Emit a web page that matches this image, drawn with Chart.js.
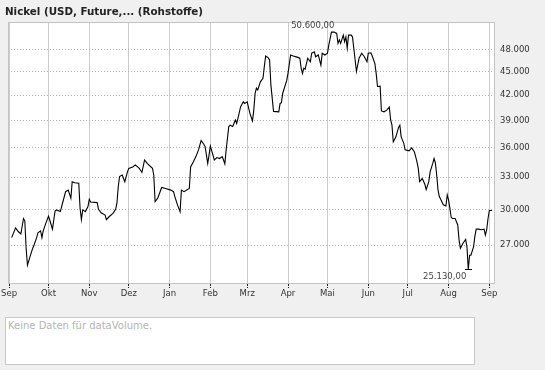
<!DOCTYPE html>
<html>
<head>
<meta charset="utf-8">
<script src="https://cdn.jsdelivr.net/npm/chart.js@4.4.0/dist/chart.umd.min.js"></script>
<style>
  html, body { margin: 0; padding: 0; background: #f0f0f0; }
  #wrap { position: relative; width: 545px; height: 370px; overflow: hidden; }
  #chart { position: absolute; left: 0; top: 0; }
  #title { position: absolute; left: 5px; top: 5px; font: bold 10.3px "DejaVu Sans"; color: #222; white-space: nowrap; }
  #volume { position: absolute; left: 5px; top: 317px; width: 468px; height: 46px; background: #fff; border: 1px solid #c8c8c8; }
  #volume span { position: absolute; left: 2px; top: 2px; font: 10px "DejaVu Sans"; color: #b4b4b4; white-space: nowrap; }
</style>
</head>
<body>
<div id="wrap">
  <canvas id="chart" width="545" height="300"></canvas>
  <div id="title">Nickel (USD, Future,... (Rohstoffe)</div>
  <div id="volume"><span>Keine Daten für dataVolume.</span></div>
</div>
<script>
// days since 1 Sep (Sep .. Sep), price in USD
const days = [2, 5, 7, 9, 11, 12, 13, 14, 16, 18, 19, 21, 22, 24, 25, 26, 28, 30, 31, 33,
  35, 36, 39, 41, 43, 45, 47, 48, 50, 53, 54, 55, 56, 58, 60, 61, 62, 67, 68, 70,
  73, 74, 76, 79, 81, 82, 83, 84, 86, 88, 90, 91, 94, 96, 99, 101, 103, 105, 109, 110,
  111, 113, 116, 119, 123, 125, 126, 128, 130, 131, 133, 137, 138, 140, 142, 144, 145, 146, 148, 149,
  151, 152, 153, 155, 156, 158, 160, 162, 163, 164, 165, 167, 168, 170, 172, 173, 174, 176, 178, 179,
  181, 183, 185, 186, 187, 188, 189, 191, 193, 194, 195, 197, 198, 199, 201, 205, 206, 207, 208, 210,
  211, 212, 214, 216, 219, 221, 222, 223, 224, 225, 227, 229, 230, 232, 233, 235, 237, 238, 240, 242,
  243, 245, 247, 249, 250, 251, 252, 254, 255, 256, 257, 258, 260, 261, 262, 264, 266, 268, 270, 272,
  273, 275, 276, 278, 279, 280, 282, 283, 285, 287, 289, 290, 291, 292, 294, 296, 297, 298, 300, 301,
  304, 306, 308, 309, 310, 311, 312, 314, 316, 317, 319, 320, 322, 323, 324, 325, 326, 327, 328, 330,
  332, 333, 334, 335, 336, 337, 339, 341, 342, 343, 345, 347, 348, 349, 350, 351, 353, 354, 355, 357,
  359, 361, 362, 363, 364, 365, 367];
const prices = [27600, 28400, 28100, 27900, 29200, 29000, 26750, 25450, 26100, 26750, 27000, 27600, 28000, 28150, 27600, 28150, 28800, 29400, 29050, 28300,
  29850, 29950, 29800, 30700, 31600, 31750, 31000, 32550, 32450, 32400, 30100, 29100, 29950, 29800, 30250, 30900, 30650, 30600, 30000, 29700,
  29500, 29100, 29350, 29650, 30000, 30550, 32050, 33050, 33200, 32550, 33500, 33850, 34000, 34200, 33850, 33450, 34700, 34350, 33850, 33200,
  30700, 31000, 32000, 31900, 31750, 31600, 31150, 30400, 29800, 31750, 31600, 31900, 34000, 34500, 35050, 35750, 36250, 36750, 36350, 36100,
  34350, 35200, 36150, 35200, 34700, 34950, 34850, 35050, 34700, 34300, 35750, 38300, 38450, 38300, 39050, 38650, 39250, 40600, 41200, 41000,
  41200, 39850, 38950, 40200, 42250, 42900, 42650, 43700, 44150, 45700, 47150, 46900, 46600, 43300, 40050, 40000, 41000, 41100, 42250, 43300,
  43850, 44800, 47300, 47150, 47000, 46850, 45500, 44800, 45500, 45350, 46850, 46350, 47550, 47750, 47050, 47300, 45900, 47550, 47300, 47550,
  48700, 50600, 50600, 50400, 48950, 49450, 48950, 50150, 49200, 49900, 48250, 50150, 50150, 49900, 48250, 45050, 46850, 47550, 47050, 46350,
  47550, 47600, 47150, 46150, 44800, 43100, 43150, 40100, 40000, 40200, 40550, 39050, 38450, 36600, 37150, 38200, 38450, 37150, 36450, 35750,
  35650, 35950, 35550, 35050, 34500, 33850, 32550, 32850, 32300, 31800, 32550, 33500, 34350, 34850, 34400, 33200, 31750, 31150, 30900, 30400,
  30300, 31300, 30850, 30100, 29300, 29200, 29200, 28650, 27400, 26750, 27150, 27450, 26850, 25130, 26200, 26200, 26850, 27700, 28300, 28300,
  28250, 28300, 27800, 28250, 29200, 29900, 29900];

const monthDays = [0, 30, 61, 91, 122, 153, 181, 212, 242, 273, 303, 334, 365];
const monthLabels = ["Sep", "Okt", "Nov", "Dez", "Jan", "Feb", "Mrz", "Apr", "Mai", "Jun", "Jul", "Aug", "Sep"];
const yTicks = [27000, 30000, 33000, 36000, 39000, 42000, 45000, 48000];

const fmt = (v) => String(Math.round(v)).replace(/\B(?=(\d{3})+(?!\d))/g, ".");
const FONT = "DejaVu Sans";

const framePlugin = {
  id: "frame",
  beforeDraw(chart) {
    const a = chart.chartArea;
    const ctx = chart.ctx;
    ctx.save();
    ctx.fillStyle = "#ffffff";
    ctx.fillRect(a.left, a.top, a.right - a.left, a.bottom - a.top);
    ctx.restore();
  },
  afterDraw(chart) {
    const a = chart.chartArea;
    const ctx = chart.ctx;
    const xs = chart.scales.x;
    const ys = chart.scales.y;
    ctx.save();
    ctx.strokeStyle = "#c4c4c4";
    ctx.lineWidth = 1;
    ctx.strokeRect(a.left + 0.5, a.top + 0.5, a.right - a.left - 1, a.bottom - a.top - 1);

    // high / low labels
    const hi = Math.max(...prices);
    const lo = Math.min(...prices);
    const hx = xs.getPixelForValue(days[prices.indexOf(hi)]);
    const hy = ys.getPixelForValue(hi);
    const lx = xs.getPixelForValue(days[prices.indexOf(lo)]);
    const ly = ys.getPixelForValue(lo);
    ctx.font = "8.5px '" + FONT + "'";
    ctx.fillStyle = "#444";
    ctx.textAlign = "right";
    ctx.textBaseline = "middle";
    ctx.fillText(fmt(hi) + ",00", hx + 3, hy - 6);
    ctx.fillText(fmt(lo) + ",00", lx - 2, ly + 7);

    ctx.strokeStyle = "#000";
    ctx.beginPath();
    ctx.moveTo(Math.round(lx) - 3, Math.round(ly) + 0.5);
    ctx.lineTo(Math.round(lx) + 4, Math.round(ly) + 0.5);
    ctx.stroke();
    ctx.restore();
  }
};

new Chart(document.getElementById("chart").getContext("2d"), {
  type: "line",
  data: {
    datasets: [{
      data: days.map((d, i) => ({ x: d, y: prices[i] })),
      borderColor: "#000",
      borderWidth: 1.1,
      pointRadius: 0,
      tension: 0,
      fill: false
    }]
  },
  options: {
    responsive: false,
    animation: false,
    layout: { padding: { left: 5, top: 22, right: 0, bottom: 0 } },
    plugins: { legend: { display: false }, tooltip: { enabled: false } },
    scales: {
      x: {
        type: "linear",
        min: -0.75,
        max: 369.3,
        afterBuildTicks: (s) => { s.ticks = monthDays.map((v) => ({ value: v })); },
        afterFit: (s) => { s.height = 16; },
        ticks: {
          autoSkip: false,
          maxRotation: 0,
          padding: 1,
          color: "#333",
          font: { family: FONT, size: 8.5 },
          callback: (v) => monthLabels[monthDays.indexOf(v)]
        },
        grid: { color: "#cccccc", lineWidth: 1, tickLength: 4, tickColor: "#222", tickBorderDash: [2, 1] },
        border: { display: false }
      },
      y: {
        type: "logarithmic",
        position: "right",
        min: 24070,
        max: 52130,
        afterBuildTicks: (s) => { s.ticks = yTicks.map((v) => ({ value: v })); },
        afterFit: (s) => { s.width = 50; },
        ticks: {
          padding: 5,
          color: "#333",
          font: { family: FONT, size: 8.5 },
          callback: (v) => fmt(v)
        },
        grid: { color: "#b0b0b0", lineWidth: 1, drawTicks: false },
        border: { display: false, dash: [1, 2] }
      }
    }
  },
  plugins: [framePlugin]
});
</script>
</body>
</html>
